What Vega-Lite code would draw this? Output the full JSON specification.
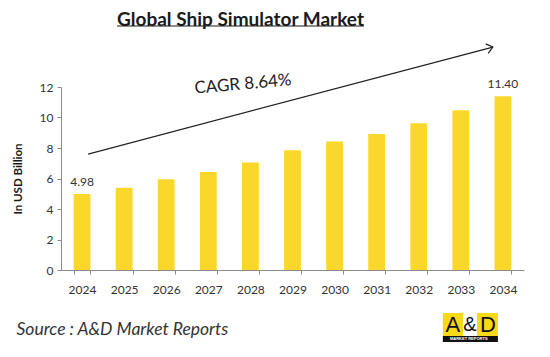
{
  "$schema": "https://vega.github.io/schema/vega-lite/v6.json",
  "width": 463,
  "height": 183,
  "autosize": "none",
  "padding": {"left": 61, "top": 87, "right": 26, "bottom": 87},
  "background": "white",
  "config": {
    "view": {"stroke": null},
    "font": "Lato",
    "axisX": {
      "labelAngle": 0, "labelFontSize": 12, "labelColor": "#333333",
      "labelPadding": 10, "tickBand": "extent", "tickSize": 4,
      "domainColor": "#8a8a8a", "tickColor": "#8a8a8a",
      "titleFontSize": 17.5, "titleFontStyle": "italic", "titleFontWeight": "normal",
      "titleColor": "#333333", "titleAnchor": "start", "titleAlign": "left",
      "titleX": -45, "titleY": 59, "titleBaseline": "middle"
    },
    "axisY": {
      "tickCount": 7, "grid": false, "labelOverlap": false,
      "labelFontSize": 12, "labelColor": "#333333", "labelPadding": 4,
      "tickSize": 4, "domainColor": "#8a8a8a", "tickColor": "#8a8a8a",
      "titleFontSize": 11.5, "titleFontWeight": "bold",
      "titleColor": "#1a1a1a", "titlePadding": 16
    }
  },
  "title": {
    "text": "Global Ship Simulator Market",
    "font": "Lato",
    "fontSize": 19,
    "fontWeight": "bold",
    "color": "#1a1a1a",
    "anchor": "middle",
    "dx": -52,
    "offset": -5
  },
  "layer": [
    {
      "data": {"values": [
        {"year": "2024", "value": 4.98, "label": "4.98"},
        {"year": "2025", "value": 5.40},
        {"year": "2026", "value": 5.95},
        {"year": "2027", "value": 6.43},
        {"year": "2028", "value": 7.05},
        {"year": "2029", "value": 7.85},
        {"year": "2030", "value": 8.42},
        {"year": "2031", "value": 8.92},
        {"year": "2032", "value": 9.62},
        {"year": "2033", "value": 10.47},
        {"year": "2034", "value": 11.40, "label": "11.40"}
      ]},
      "layer": [
        {
          "mark": {"type": "bar", "color": "#FCD72B"},
          "encoding": {
            "x": {
              "field": "year", "type": "nominal",
              "scale": {"paddingInner": 0.6, "paddingOuter": 0.3},
              "axis": {"title": "Source : A&D Market Reports"}
            },
            "y": {
              "field": "value", "type": "quantitative",
              "scale": {"domain": [0, 12], "nice": false},
              "axis": {"title": "In USD Billion", "values": [0, 2, 4, 6, 8, 10, 12], "labelOverlap": false}
            }
          }
        },
        {
          "transform": [{"filter": "datum.label != null"}],
          "mark": {"type": "text", "dy": -12, "fontSize": 12, "color": "#333333"},
          "encoding": {
            "x": {"field": "year", "type": "nominal"},
            "y": {"field": "value", "type": "quantitative"},
            "text": {"field": "label"}
          }
        }
      ]
    },
    {
      "data": {"values": [{"year": "2024", "year2": "2034", "y1": 7.6, "y2": 14.62}]},
      "mark": {"type": "rule", "color": "#222222", "strokeWidth": 1.2},
      "encoding": {
        "x": {"field": "year", "type": "nominal", "bandPosition": 0.86},
        "x2": {"field": "year2", "bandPosition": -0.1},
        "y": {"field": "y1", "type": "quantitative"},
        "y2": {"field": "y2"}
      }
    },
    {
      "data": {"values": [{"year": "2034", "y": 14.62}]},
      "mark": {"type": "point", "shape": "M -1 -0.8 L 0 0 L -1 0.8", "filled": false, "stroke": "#222222", "strokeWidth": 1.2, "size": 150, "angle": 345, "opacity": 1},
      "encoding": {
        "x": {"field": "year", "type": "nominal", "bandPosition": -0.1},
        "y": {"field": "y", "type": "quantitative"}
      }
    },
    {
      "data": {"values": [{"year": "2028", "y": 12.17, "text": "CAGR 8.64%"}]},
      "mark": {"type": "text", "fontSize": 17, "color": "#222222", "angle": 355, "font": "Lato"},
      "encoding": {
        "x": {"field": "year", "type": "nominal", "bandPosition": 0.06},
        "y": {"field": "y", "type": "quantitative"},
        "text": {"field": "text"}
      }
    },
    {
      "data": {"values": [{"year": "2025", "year2": "2032", "y": 16.0}]},
      "mark": {"type": "rule", "color": "#1a1a1a", "strokeWidth": 1.2},
      "encoding": {
        "x": {"field": "year", "type": "nominal", "bandPosition": 0.08},
        "x2": {"field": "year2", "bandPosition": -2.76},
        "y": {"field": "y", "type": "quantitative"}
      }
    },
    {
      "data": {"values": [{"year": "2033", "year2": "2033", "y1": -2.82, "y2": -4.33}]},
      "mark": {"type": "rect", "color": "#F7D917"},
      "encoding": {
        "x": {"field": "year", "type": "nominal", "bandPosition": -0.57},
        "x2": {"field": "year2", "bandPosition": 0.63},
        "y": {"field": "y1", "type": "quantitative"},
        "y2": {"field": "y2"}
      }
    },
    {
      "data": {"values": [{"year": "2033", "year2": "2034", "y1": -2.82, "y2": -4.33}]},
      "mark": {"type": "rect", "color": "#F7D917"},
      "encoding": {
        "x": {"field": "year", "type": "nominal", "bandPosition": 1.46},
        "x2": {"field": "year2", "bandPosition": 0.2},
        "y": {"field": "y1", "type": "quantitative"},
        "y2": {"field": "y2"}
      }
    },
    {
      "data": {"values": [{"year": "2033", "year2": "2034", "y1": -4.33, "y2": -4.72}]},
      "mark": {"type": "rect", "color": "#111111"},
      "encoding": {
        "x": {"field": "year", "type": "nominal", "bandPosition": -0.57},
        "x2": {"field": "year2", "bandPosition": 0.2},
        "y": {"field": "y1", "type": "quantitative"},
        "y2": {"field": "y2"}
      }
    },
    {
      "data": {"values": [{"year": "2033", "y": -4.52, "text": "MARKET REPORTS"}]},
      "mark": {"type": "text", "fontSize": 4, "fontWeight": "bold", "color": "#ffffff", "font": "Liberation Sans", "baseline": "middle"},
      "encoding": {
        "x": {"field": "year", "type": "nominal", "bandPosition": 0.97},
        "y": {"field": "y", "type": "quantitative"},
        "text": {"field": "text"}
      }
    },
    {
      "data": {"values": [{"year": "2033", "y": -3.58, "text": "A"}]},
      "mark": {"type": "text", "fontSize": 22, "color": "#111111", "font": "Liberation Sans", "baseline": "middle"},
      "encoding": {
        "x": {"field": "year", "type": "nominal", "bandPosition": 0.03},
        "y": {"field": "y", "type": "quantitative"},
        "text": {"field": "text"}
      }
    },
    {
      "data": {"values": [{"year": "2033", "y": -3.58, "text": "&"}]},
      "mark": {"type": "text", "fontSize": 20, "color": "#111111", "font": "Liberation Sans", "baseline": "middle"},
      "encoding": {
        "x": {"field": "year", "type": "nominal", "bandPosition": 1.04},
        "y": {"field": "y", "type": "quantitative"},
        "text": {"field": "text"}
      }
    },
    {
      "data": {"values": [{"year": "2034", "y": -3.58, "text": "D"}]},
      "mark": {"type": "text", "fontSize": 22, "color": "#111111", "font": "Liberation Sans", "baseline": "middle"},
      "encoding": {
        "x": {"field": "year", "type": "nominal", "bandPosition": -0.39},
        "y": {"field": "y", "type": "quantitative"},
        "text": {"field": "text"}
      }
    }
  ]
}
